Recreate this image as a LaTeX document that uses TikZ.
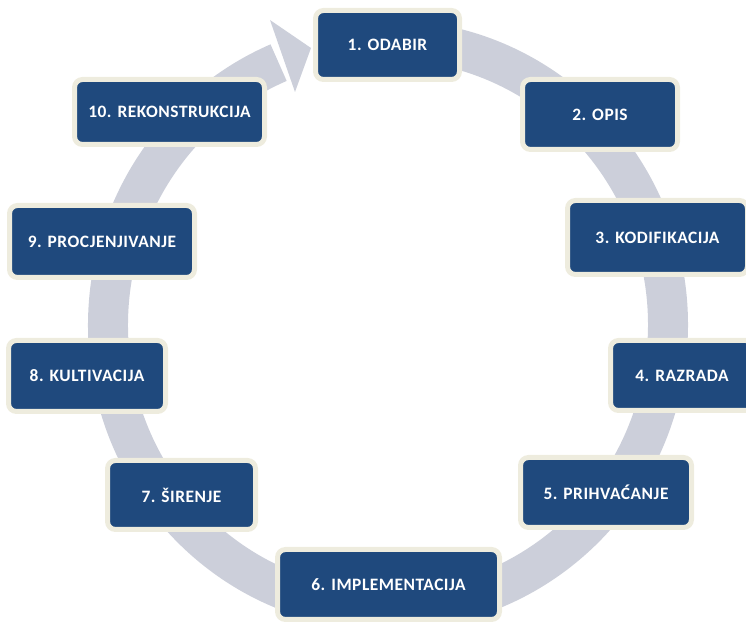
\documentclass[tikz,border=0pt]{standalone}
\usepackage{fontspec}
\setmainfont[LetterSpace=3]{Carlito}
\usepackage{tikz}

\definecolor{boxblue}{RGB}{31,73,125}
\definecolor{boxrim}{RGB}{238,236,222}
\definecolor{ringgray}{RGB}{204,207,218}

\begin{document}
\begin{tikzpicture}[x=0.5pt,y=0.5pt,
  stage/.style={draw=boxrim, line width=2.5pt, fill=boxblue, rounded corners=4pt,
    text=white, inner sep=0pt, font=\bfseries\fontsize{8.7}{10}\selectfont}]
\useasboundingbox (0,0) rectangle (746,622);
% the cycle ring and its head
\draw[ringgray, line width=20pt] (388,297) ++(85:280 and 285)
  arc[start angle=85, end angle=-247, x radius=280, y radius=285];
\fill[ringgray] (270,602) -- (311,574) -- (295,530) -- cycle;
% stages
\foreach \x/\y/\w/\h/\name/\txt in {
  387.5/577/72/34.5/odabir/1. ODABIR,
  600/507.5/77.5/35/opis/2. OPIS,
  657.5/384.5/90/37/kodifikacija/3. KODIFIKACIJA,
  682/246.5/71.5/35/razrada/4. RAZRADA,
  606/129.5/85.5/35/prihvacanje/5. PRIHVAĆANJE,
  388.5/37.5/111/35/implementacija/6. IMPLEMENTACIJA,
  181.5/127/74/34.5/sirenje/7. ŠIRENJE,
  87/246/78.5/35.5/kultivacija/8. KULTIVACIJA,
  102/380.5/92.5/36/procjenjivanje/9. PROCJENJIVANJE,
  169.5/510/95/32.5/rekonstrukcija/10. REKONSTRUKCIJA}
  \node[stage, minimum width=\w pt, minimum height=\h pt] (\name) at (\x,\y) {\txt};
\end{tikzpicture}
\end{document}
